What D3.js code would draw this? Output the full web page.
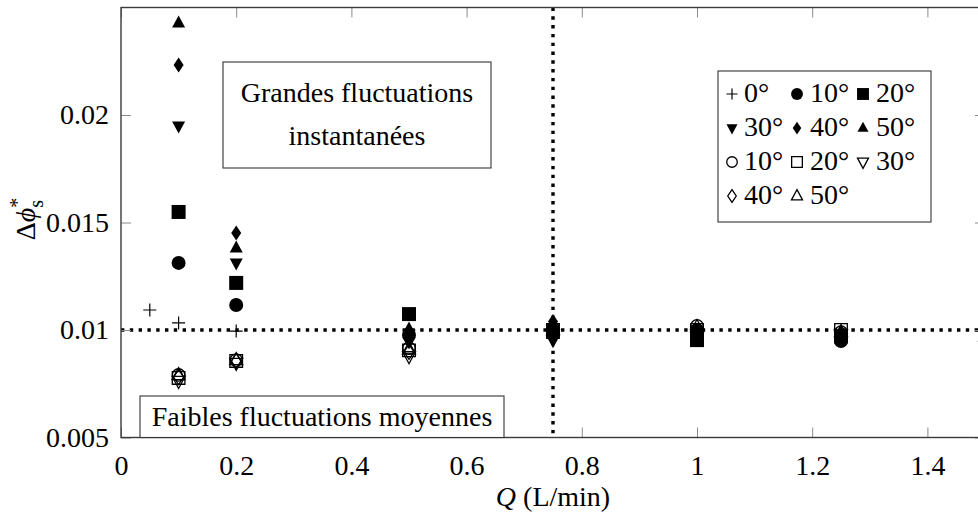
<!DOCTYPE html>
<html>
<head>
<meta charset="utf-8">
<script src="https://cdn.jsdelivr.net/npm/d3@7"></script>
<style>
  html, body { margin: 0; padding: 0; background: #fff; }
  svg { display: block; }
  text { font-family: "Liberation Serif", "DejaVu Serif", serif; fill: #000; }
</style>
</head>
<body>
<svg id="chart" width="978" height="522"></svg>
<script>
// ---------- data ----------
const q0 = [0.05, 0.1, 0.2, 0.5, 0.75, 1, 1.25, 1.5];
const q = [0.1, 0.2, 0.5, 0.75, 1, 1.25, 1.5];

const plus0    = [0.01093, 0.01033, 0.00995, 0.0100, 0.0100, 0.0100, 0.0099, 0.0098];
const filled10 = [0.01312, 0.01116, 0.00977, 0.0099, 0.0100, 0.00949, 0.0096];
const filled20 = [0.01549, 0.01219, 0.01074, 0.0100, 0.00953, 0.0097, 0.0097];
const filled30 = [0.01949, 0.01312, 0.00944, 0.0095, 0.0096, 0.0096, 0.0096];
const filled40 = [0.02233, 0.01451, 0.00963, 0.0104, 0.0099, 0.0097, 0.0097];
const filled50 = [0.02428, 0.01381, 0.01005, 0.0102, 0.0100, 0.0098, 0.0097];
const open10   = [0.00791, 0.00860, 0.00916, 0.0099, 0.01019, 0.0099, 0.0097];
const open20   = [0.00777, 0.00856, 0.00905, 0.0099, 0.0100, 0.0100, 0.0098];
const open30   = [0.00763, 0.00847, 0.00878, 0.0098, 0.0098, 0.0098, 0.0097];
const open40   = [0.00781, 0.00856, 0.00898, 0.0098, 0.0099, 0.0098, 0.0097];
const open50   = [0.00790, 0.00860, 0.00910, 0.0100, 0.01014, 0.0099, 0.0097];

const xTicks = [0, 0.2, 0.4, 0.6, 0.8, 1, 1.2, 1.4];
const xTickLabels = ["0", "0.2", "0.4", "0.6", "0.8", "1", "1.2", "1.4"];
const yTicks = [0.005, 0.01, 0.015, 0.02];
const yTickLabels = ["0.005", "0.01", "0.015", "0.02"];

const legendLabels = ["0°", "10°", "20°", "30°", "40°", "50°", "10°", "20°", "30°", "40°", "50°"];
const refQ = 0.75;
const refPhi = 0.01;

// ---------- layout ----------
const svg = d3.select("#chart");
const L = 121, R = 985, T = 7.5, B = 437.5;
const x = d3.scaleLinear().domain([0, 1.5]).range([L, R]);
const y = d3.scaleLinear().domain([0.005, 0.025]).range([B, T]);
const FS = 28;

// marker shape paths
const shapes = {
  plus: s => `M${-6.5*s},0H${6.5*s}M0,${-6.5*s}V${6.5*s}`,
  circle: s => { const r = 7*s; return `M${r},0A${r},${r} 0 1,1 ${-r},0A${r},${r} 0 1,1 ${r},0Z`; },
  ocircle: s => { const r = 6.2*s; return `M${r},0A${r},${r} 0 1,1 ${-r},0A${r},${r} 0 1,1 ${r},0Z`; },
  square: s => `M${-7*s},${-7*s}H${7*s}V${7*s}H${-7*s}Z`,
  osquare: s => `M${-6.3*s},${-6.3*s}H${6.3*s}V${6.3*s}H${-6.3*s}Z`,
  tup: s => `M0,${-7.5*s}L${6.5*s},${4.5*s}L${-6.5*s},${4.5*s}Z`,
  tdown: s => `M0,${7.5*s}L${6.5*s},${-4.5*s}L${-6.5*s},${-4.5*s}Z`,
  diamond: s => `M0,${-7.5*s}L${5*s},0L0,${7.5*s}L${-5*s},0Z`
};

const series = [
  {xs: q0, ys: plus0, shape: "plus", filled: false, plus: true},
  {xs: q, ys: filled10, shape: "circle", filled: true},
  {xs: q, ys: filled20, shape: "square", filled: true},
  {xs: q, ys: filled30, shape: "tdown", filled: true},
  {xs: q, ys: filled40, shape: "diamond", filled: true},
  {xs: q, ys: filled50, shape: "tup", filled: true},
  {xs: q, ys: open10, shape: "ocircle", filled: false},
  {xs: q, ys: open20, shape: "osquare", filled: false},
  {xs: q, ys: open30, shape: "tdown", filled: false},
  {xs: q, ys: open40, shape: "diamond", filled: false},
  {xs: q, ys: open50, shape: "tup", filled: false}
];

function styleMark(sel, d) {
  if (d.plus) sel.attr("fill", "none").attr("stroke", "#000").attr("stroke-width", 1.2);
  else if (d.filled) sel.attr("fill", "#000").attr("stroke", "none");
  else sel.attr("fill", "none").attr("stroke", "#000").attr("stroke-width", 1.3);
}

// ---------- reference dotted lines ----------
svg.append("line")
  .attr("x1", x(0)).attr("x2", x(1.5)).attr("y1", y(refPhi)).attr("y2", y(refPhi))
  .attr("stroke", "#000").attr("stroke-width", 3.4).attr("stroke-dasharray", "3.4 5.4");
svg.append("line")
  .attr("x1", x(refQ)).attr("x2", x(refQ)).attr("y1", y(0.025)).attr("y2", y(0.005))
  .attr("stroke", "#000").attr("stroke-width", 3.4).attr("stroke-dasharray", "3.4 5.4");

// ---------- axes ----------
const gB = svg.append("g").attr("transform", `translate(0,${B})`)
  .call(d3.axisBottom(x).tickValues(xTicks).tickSize(-10).tickFormat((d, i) => xTickLabels[i]));
gB.selectAll("text").attr("y", 37).attr("dy", null).style("font-size", FS + "px");
const gT = svg.append("g").attr("transform", `translate(0,${T})`)
  .call(d3.axisTop(x).tickValues(xTicks).tickSize(-10).tickFormat(""));
const gL = svg.append("g").attr("transform", `translate(${L},0)`)
  .call(d3.axisLeft(y).tickValues(yTicks).tickSize(-10).tickPadding(12).tickFormat((d, i) => yTickLabels[i]));
gL.selectAll("text").attr("dy", "0.32em").style("font-size", FS + "px");
const gR = svg.append("g").attr("transform", `translate(${R},0)`)
  .call(d3.axisRight(y).tickValues(yTicks).tickSize(-10).tickFormat(""));
[gB, gT, gL, gR].forEach(g => {
  g.select(".domain").remove();
  g.selectAll(".tick line").attr("stroke", "#8a8a8a").attr("stroke-width", 1);
  g.attr("font-family", null).attr("font-size", null);
});

svg.append("rect").attr("x", L).attr("y", T).attr("width", R - L).attr("height", B - T)
  .attr("fill", "none").attr("stroke", "#3a3a3a").attr("stroke-width", 1.4);

// ---------- marks ----------
series.forEach(d => {
  const g = svg.append("g");
  g.selectAll("path").data(d.xs.map((xv, i) => [xv, d.ys[i]])).join("path")
    .attr("transform", p => `translate(${x(p[0])},${y(p[1])})`)
    .attr("d", shapes[d.shape](1))
    .call(sel => styleMark(sel, d));
});

// ---------- annotation boxes ----------
svg.append("rect").attr("x", 223).attr("y", 62).attr("width", 268).attr("height", 106)
  .attr("fill", "#fff").attr("stroke", "#333").attr("stroke-width", 1.1);
svg.append("text").attr("x", 357).attr("y", 102).attr("text-anchor", "middle")
  .style("font-size", FS + "px").text("Grandes fluctuations");
svg.append("text").attr("x", 357).attr("y", 145).attr("text-anchor", "middle")
  .style("font-size", FS + "px").text("instantanées");

svg.append("rect").attr("x", 140).attr("y", 396).attr("width", 364).attr("height", B - 396)
  .attr("fill", "#fff").attr("stroke", "#333").attr("stroke-width", 1.1);
svg.append("text").attr("x", 322).attr("y", 426).attr("text-anchor", "middle")
  .style("font-size", FS + "px").text("Faibles fluctuations moyennes");

// ---------- legend ----------
svg.append("rect").attr("x", 718).attr("y", 71).attr("width", 213).attr("height", 151)
  .attr("fill", "#fff").attr("stroke", "#333").attr("stroke-width", 1.1);
const colMark = [732, 797, 863], colText = [744, 810, 876];
const rowBase = [102, 136, 170, 204];
series.forEach((d, i) => {
  const r = Math.floor(i / 3), c = i % 3;
  const p = svg.append("path")
    .attr("transform", `translate(${colMark[c]},${rowBase[r] - 8})`)
    .attr("d", shapes[d.shape](0.85));
  styleMark(p, d);
  svg.append("text").attr("x", colText[c]).attr("y", rowBase[r])
    .style("font-size", FS + "px").text(legendLabels[i]);
});

// ---------- axis titles ----------
const xl = svg.append("text").attr("x", (L + R) / 2).attr("y", 506)
  .attr("text-anchor", "middle").style("font-size", FS + "px");
xl.append("tspan").attr("font-style", "italic").text("Q");
xl.append("tspan").text(" (L/min)");

const yl = svg.append("text").attr("transform", "translate(35,219) rotate(-90)")
  .attr("text-anchor", "middle").style("font-size", FS + "px");
yl.append("tspan").text("Δ");
yl.append("tspan").attr("font-style", "italic").text("ϕ");
yl.append("tspan").attr("dy", -11).style("font-size", "20px").text("*");
yl.append("tspan").attr("dx", -10).attr("dy", 19).style("font-size", "20px").text("s");
</script>
</body>
</html>
